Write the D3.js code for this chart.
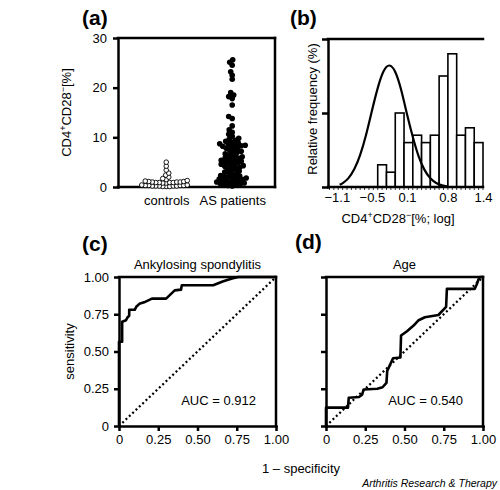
<!DOCTYPE html>
<html><head><meta charset="utf-8">
<script src="https://cdn.jsdelivr.net/npm/d3@7"></script>
<style>
body{margin:0;background:#fff;}
svg text{font-family:"Liberation Sans",Arial,Helvetica,sans-serif;fill:#000;}
</style>
</head><body>
<svg id="chart" width="500" height="490"></svg>
<script>
// ---------------- data ----------------
const categories = ["controls", "AS patients"];
const controlsValues = [5.0, 4.2, 3.4, 2.8, 2.4, 2.0, 1.7, 1.5, 1.3, 1.2, 1.1, 1.1, 1.0, 1.0, 1.0, 0.9, 0.9,
  0.9, 0.9, 0.8, 0.8, 0.4, 0.4, 0.3, 0.3, 0.3, 0.3, 0.2, 0.2, 0.2, 0.2, 0.2, 0.1, 0.1, 0.1];
const asValues = [25.6, 25.1, 24.5, 23.2, 22.5, 21.7, 19.0, 18.5, 18.2, 17.8, 16.5, 14.2, 13.8, 12.3, 11.5,
  11.0, 10.6, 10.2, 9.8, 9.6, 9.4, 9.2, 9.0, 8.9, 8.7, 8.6, 8.5, 8.4, 8.3, 8.2, 8.1, 8.0,
  7.8, 7.6, 7.4, 7.2, 7.0, 6.9, 6.7, 6.5, 6.3, 6.1, 6.0, 5.9, 5.8, 5.6, 5.5, 5.4, 5.2, 5.1, 5.0,
  4.9, 4.7, 4.6, 4.5, 4.3, 4.2, 4.1, 4.0, 3.8, 3.6, 3.4, 3.2, 3.0, 2.9, 2.7, 2.5, 2.3, 2.2, 2.1, 2.0,
  1.9, 1.8, 1.7, 1.6, 1.5, 1.4, 1.3, 1.2, 1.1, 1.0, 0.9, 0.8, 0.7, 0.6, 0.5, 0.4, 0.3, 0.2];
const aTicks = [0, 10, 20, 30];

const binStarts = [-0.4, -0.25, -0.1, 0.05, 0.2, 0.35, 0.5, 0.65, 0.8, 0.95, 1.1, 1.25];
const binWidth = 0.15;
const binFreq = [3, 2, 10, 6, 7, 6, 7, 15, 18, 7, 8, 6];
const fitX = [-1.05, -1.0, -0.9, -0.8, -0.7, -0.6, -0.5, -0.4, -0.3, -0.2, -0.1, 0.0, 0.1, 0.2, 0.3, 0.4, 0.5, 0.6, 0.7, 0.8];
const fitY = [0.3, 0.5, 1.1, 2.3, 4.2, 6.9, 10.3, 13.5, 15.9, 16.7, 15.8, 13.3, 9.8, 6.7, 4.0, 2.2, 1.1, 0.5, 0.2, 0.05];
const bTicks = [-1.1, -0.5, 0.1, 0.8, 1.4];
const bTickLabels = ["\u22121.1", "\u22120.5", "0.1", "0.8", "1.4"];
const bYTicks = [0, 10, 20];

const rocTicks = [0, 0.25, 0.5, 0.75, 1];
const rocTickLabels = ["0", "0.25", "0.50", "0.75", "1.00"];
const asFpr  = [0, 0, 0.02, 0.02, 0.045, 0.055, 0.065, 0.065, 0.10, 0.11, 0.13, 0.16, 0.19, 0.21, 0.30, 0.33, 0.355, 0.395, 0.40, 0.60, 0.66, 0.72, 0.76, 1.0];
const asSens = [0, 0.565, 0.565, 0.70, 0.71, 0.73, 0.74, 0.78, 0.78, 0.80, 0.82, 0.83, 0.845, 0.855, 0.855, 0.885, 0.91, 0.915, 0.945, 0.945, 0.97, 0.99, 1.0, 1.0];
const ageFpr  = [0, 0, 0.14, 0.145, 0.21, 0.23, 0.24, 0.327, 0.36, 0.385, 0.39, 0.427, 0.474, 0.478, 0.516, 0.558, 0.59, 0.63, 0.716, 0.765, 0.77, 0.947, 0.96, 0.97, 0.98, 1.0];
const ageSens = [0, 0.123, 0.123, 0.19, 0.195, 0.21, 0.245, 0.25, 0.26, 0.29, 0.37, 0.455, 0.46, 0.607, 0.636, 0.674, 0.71, 0.73, 0.745, 0.80, 0.92, 0.92, 0.95, 0.98, 1.0, 1.0];
const aucLabels = ["AUC = 0.912", "AUC = 0.540"];
const rocTitles = ["Ankylosing spondylitis", "Age"];

// ---------------- drawing ----------------
const svg = d3.select("#chart");
const FONT = '"Liberation Sans",Arial,Helvetica,sans-serif';
const AX = 2.5;

function styleAxis(g, fs) {
  g.attr("font-family", FONT).attr("font-size", fs || 13);
  g.select(".domain").attr("stroke-width", AX).attr("stroke-linecap", "square");
  g.selectAll(".tick line").attr("stroke-width", AX);
  g.selectAll(".tick text").attr("fill", "#000");
}
function hline(x1, x2, y, w) {
  svg.append("line").attr("x1", x1).attr("x2", x2).attr("y1", y).attr("y2", y)
    .attr("stroke", "#000").attr("stroke-width", w || AX).attr("stroke-linecap", "square");
}
function vline(x, y1, y2, w) {
  svg.append("line").attr("x1", x).attr("x2", x).attr("y1", y1).attr("y2", y2)
    .attr("stroke", "#000").attr("stroke-width", w || AX).attr("stroke-linecap", "square");
}
function panelLabel(t, x, y) {
  svg.append("text").attr("x", x).attr("y", y).attr("font-size", 21).attr("font-weight", "bold").text(t);
}
function cdLabel(sel, tail) {
  sel.append("tspan").text("CD4");
  sel.append("tspan").attr("font-size", 9).attr("dy", -5).text("+");
  sel.append("tspan").attr("dy", 5).text("CD28");
  sel.append("tspan").attr("font-size", 9).attr("dy", -5).text("\u2212");
  sel.append("tspan").attr("dy", 5).text(tail);
}

// ===== Panel (a) =====
{
  const L = 118, R = 275, T = 38, B = 187;
  const y = d3.scaleLinear().domain([0, 30]).range([B, T]);
  const x = d3.scalePoint().domain(categories).range([L, R]).padding(0.69).align(0.53);
  svg.append("g").attr("transform", `translate(${L},0)`)
    .call(d3.axisLeft(y).tickValues(aTicks).tickSize(5).tickSizeOuter(0).tickPadding(6))
    .call(g => styleAxis(g, 13));
  hline(L, R, B); hline(L, R, T); vline(R, T, B);
  svg.append("g").attr("transform", `translate(0,${B})`)
    .call(d3.axisBottom(x).tickSize(0).tickPadding(9))
    .call(g => { styleAxis(g, 13); g.select(".domain").remove(); });

  function swarm(vals, cx, minDist) {
    const placed = [];
    const sorted = vals.slice().sort((a, b) => a - b);
    sorted.forEach(v => {
      const py = y(v);
      let k = 0, px = cx;
      while (true) {
        const off = (k % 2 === 0 ? 1 : -1) * Math.ceil(k / 2) * 0.5;
        px = cx + off;
        const hit = placed.some(p => (p[0] - px) ** 2 + (p[1] - py) ** 2 < minDist * minDist);
        if (!hit) break;
        k++;
      }
      placed.push([px, py]);
    });
    return placed;
  }
  const cPts = swarm(controlsValues, x(categories[0]), 3.3);
  svg.append("g").selectAll("circle").data(cPts).join("circle")
    .attr("cx", d => d[0]).attr("cy", d => d[1]).attr("r", 2.3)
    .attr("fill", "#fff").attr("stroke", "#000").attr("stroke-width", 0.9);
  const aPts = swarm(asValues, x(categories[1]), 3.7);
  svg.append("g").selectAll("circle").data(aPts).join("circle")
    .attr("cx", d => d[0]).attr("cy", d => d[1]).attr("r", 2.8).attr("fill", "#000");

  const yl = svg.append("text").attr("transform", `translate(71,${(T + B) / 2}) rotate(-90)`)
    .attr("text-anchor", "middle").attr("font-size", 13);
  cdLabel(yl, "[%]");
  panelLabel("(a)", 82, 25);
}

// ===== Panel (b) =====
{
  const L = 328, R = 483, T = 39, B = 187;
  const x = d3.scaleLinear().domain([-1.25, 1.4]).range([L, R]);
  const y = d3.scaleLinear().domain([0, 20]).range([B, T]);
  svg.append("g").selectAll("rect").data(binStarts).join("rect")
    .attr("x", (d) => x(d)).attr("width", d => x(d + binWidth) - x(d))
    .attr("y", (d, i) => y(binFreq[i])).attr("height", (d, i) => B - y(binFreq[i]))
    .attr("fill", "#fff").attr("stroke", "#000").attr("stroke-width", 1.6);
  const line = d3.line().x((d, i) => x(fitX[i])).y((d, i) => y(fitY[i])).curve(d3.curveBasis);
  svg.append("path").datum(fitX).attr("d", line).attr("fill", "none")
    .attr("stroke", "#000").attr("stroke-width", 2.2);
  const minor = d3.range(0, 36).map(k => 1.4 - k * 0.075);
  svg.append("g").selectAll("line").data(minor).join("line")
    .attr("x1", d => x(d)).attr("x2", d => x(d)).attr("y1", B).attr("y2", B + 3)
    .attr("stroke", "#000").attr("stroke-width", 0.8);
  svg.append("g").attr("transform", `translate(${L},0)`)
    .call(d3.axisLeft(y).tickValues(bYTicks).tickSize(6).tickSizeOuter(0).tickFormat(""))
    .call(g => styleAxis(g, 13));
  svg.append("g").attr("transform", `translate(0,${B})`)
    .call(d3.axisBottom(x).tickValues(bTicks).tickSize(0).tickPadding(6)
      .tickFormat((d, i) => bTickLabels[i]))
    .call(g => { styleAxis(g, 13); g.select(".domain").remove(); });
  hline(L, R, B); hline(L, R, T);
  svg.append("text").attr("transform", `translate(317,${(T + B) / 2 - 4}) rotate(-90)`)
    .attr("text-anchor", "middle").attr("font-size", 13).text("Relative frequency (%)");
  const xl = svg.append("text").attr("x", 398).attr("y", 223).attr("text-anchor", "middle").attr("font-size", 13);
  cdLabel(xl, "[%; log]");
  panelLabel("(b)", 290, 25);
}

// ===== Panels (c) & (d) =====
function rocPanel(L, R, T, B, fpr, sens, title, auc, showY, lab, lx, ly) {
  const x = d3.scaleLinear().domain([0, 1]).range([L, R]);
  const y = d3.scaleLinear().domain([0, 1]).range([B, T]);
  svg.append("line").attr("x1", x(0)).attr("y1", y(0)).attr("x2", x(1)).attr("y2", y(1))
    .attr("stroke", "#000").attr("stroke-width", 2.2).attr("stroke-dasharray", "2,2.6");
  const line = d3.line().x((d, i) => x(fpr[i])).y((d, i) => y(sens[i]));
  svg.append("path").datum(fpr).attr("d", line).attr("fill", "none")
    .attr("stroke", "#000").attr("stroke-width", 2.6).attr("stroke-linejoin", "round");
  svg.append("g").attr("transform", `translate(${L},0)`)
    .call(d3.axisLeft(y).tickValues(rocTicks).tickSize(5).tickSizeOuter(0).tickPadding(5)
      .tickFormat((d, i) => showY ? rocTickLabels[i] : ""))
    .call(g => styleAxis(g, 13));
  svg.append("g").attr("transform", `translate(0,${B})`)
    .call(d3.axisBottom(x).tickValues(rocTicks).tickSize(5).tickSizeOuter(0).tickPadding(4)
      .tickFormat((d, i) => rocTickLabels[i]))
    .call(g => styleAxis(g, 13));
  hline(L, R, T); vline(R, T, B);
  svg.append("text").attr("x", (L + R) / 2).attr("y", T - 8).attr("text-anchor", "middle")
    .attr("font-size", 13).text(title);
  svg.append("text").attr("x", R - 20).attr("y", y(0.25) + 16).attr("text-anchor", "end")
    .attr("font-size", 13).text(auc);
  panelLabel(lab, lx, ly);
}
rocPanel(119, 276, 277, 426, asFpr, asSens, rocTitles[0], aucLabels[0], true, "(c)", 82, 251);
rocPanel(326, 483, 277, 426, ageFpr, ageSens, rocTitles[1], aucLabels[1], false, "(d)", 295, 249);

svg.append("text").attr("transform", `translate(74,351.5) rotate(-90)`)
  .attr("text-anchor", "middle").attr("font-size", 13).text("sensitivity");
svg.append("text").attr("x", 301).attr("y", 473).attr("text-anchor", "middle")
  .attr("font-size", 13).text("1 \u2013 specificity");
svg.append("text").attr("x", 497).attr("y", 487).attr("text-anchor", "end")
  .attr("font-size", 10.5).attr("font-style", "italic").text("Arthritis Research & Therapy");
</script>
</body></html>
